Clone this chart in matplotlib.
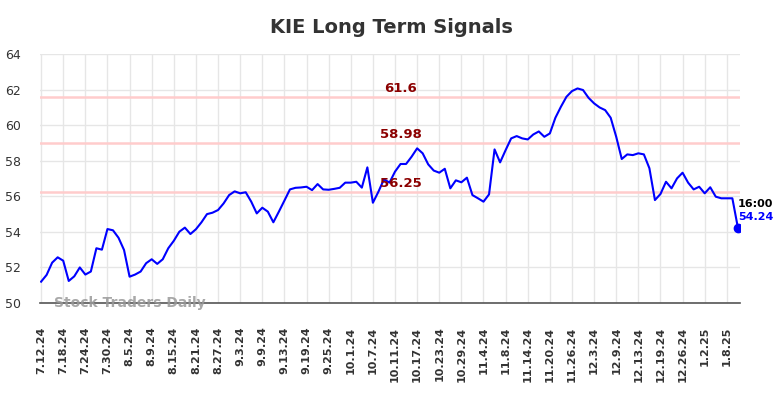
import numpy as np
import matplotlib
matplotlib.use("Agg")
import matplotlib.pyplot as plt

# Closing values, one per trading day (7.12.24 -> 1.13.25)
prices = [
    51.20, 51.58, 52.27, 52.57, 52.38, 51.24, 51.50, 52.00, 51.60, 51.77,
    53.08, 53.00, 54.16, 54.09, 53.67, 52.98, 51.48, 51.60, 51.77, 52.24,
    52.46, 52.20, 52.46, 53.08, 53.50, 54.01, 54.24, 53.88, 54.15, 54.54,
    55.00, 55.08, 55.23, 55.60, 56.07, 56.28, 56.17, 56.23, 55.70, 55.04,
    55.36, 55.14, 54.54, 55.14, 55.76, 56.39, 56.48, 56.50, 56.54, 56.35,
    56.69, 56.39, 56.37, 56.42, 56.48, 56.77, 56.77, 56.82, 56.49, 57.63,
    55.64, 56.26, 56.96, 56.77, 57.39, 57.82, 57.82, 58.23, 58.70, 58.42,
    57.80, 57.45, 57.33, 57.55, 56.45, 56.90, 56.79, 57.05, 56.07, 55.89,
    55.70, 56.11, 58.64, 57.91, 58.60, 59.26, 59.39, 59.26, 59.20, 59.48,
    59.65, 59.35, 59.54, 60.42, 61.04, 61.60, 61.92, 62.07, 61.98, 61.54,
    61.23, 61.00, 60.85, 60.42, 59.35, 58.10, 58.36, 58.32, 58.42, 58.36,
    57.58, 55.79, 56.13, 56.82, 56.45, 57.01, 57.33, 56.77, 56.39, 56.54,
    56.17, 56.51, 55.98, 55.89, 55.89, 55.89, 54.24,
]

tick_labels = [
    "7.12.24", "7.18.24", "7.24.24", "7.30.24", "8.5.24", "8.9.24", "8.15.24",
    "8.21.24", "8.27.24", "9.3.24", "9.9.24", "9.13.24", "9.19.24", "9.25.24",
    "10.1.24", "10.7.24", "10.11.24", "10.17.24", "10.23.24", "10.29.24",
    "11.4.24", "11.8.24", "11.14.24", "11.20.24", "11.26.24", "12.3.24",
    "12.9.24", "12.13.24", "12.19.24", "12.26.24", "1.2.25", "1.8.25",
]
tick_step = 4  # a label every 4 trading days

signal_levels = [61.6, 58.98, 56.25]
last_time = "16:00"

x = np.arange(len(prices))
ticks = np.arange(len(tick_labels)) * tick_step

fig = plt.figure(figsize=(7.84, 3.98), dpi=100)
ax = fig.add_axes([0.051, 0.2387, 0.893, 0.6253])

ax.set_xlim(-0.2, 126.4)
ax.set_ylim(50, 64)
ax.set_yticks(np.arange(50, 65, 2))
ax.set_xticks(ticks)
ax.set_xticklabels(tick_labels, rotation=90, fontsize=8, fontweight="bold",
                   color="#333333")
ax.tick_params(axis="y", labelsize=9, colors="#333333", length=0, pad=14)
ax.tick_params(axis="x", length=0, pad=17)

ax.grid(True, color="#e6e6e6", linewidth=1)
ax.set_axisbelow(True)
for side in ["top", "right", "left"]:
    ax.spines[side].set_visible(False)
ax.spines["bottom"].set_color("#555555")
ax.spines["bottom"].set_linewidth(1.2)

for lvl in signal_levels:
    ax.axhline(lvl, color="#ffcccc", linewidth=1.8, zorder=1)
    ax.text(65, lvl + 0.12, f"{lvl:g}", color="#8b0000", fontsize=9.5,
            fontweight="bold", ha="center", va="bottom", zorder=4)

ax.plot(x, prices, color="#0000ff", linewidth=1.5, zorder=3)
ax.plot(x[-1], prices[-1], "o", color="#0000ff", markersize=6, zorder=5)

ax.text(x[-1], prices[-1] + 1.33, last_time, fontsize=8, fontweight="bold",
        color="black", ha="left", va="center", clip_on=False)
ax.text(x[-1], prices[-1] + 0.61, f"{prices[-1]:.2f}", fontsize=8,
        fontweight="bold", color="#0000ff", ha="left", va="center",
        clip_on=False)

ax.text(2.3, 50.0, "Stock Traders Daily", fontsize=10, fontweight="bold",
        color="#999999", alpha=0.85, ha="left", va="center", zorder=4)

fig.suptitle("KIE Long Term Signals", x=0.499, y=0.955, fontsize=14,
             fontweight="bold", color="#333333")

fig.savefig("out.png", dpi=100)
